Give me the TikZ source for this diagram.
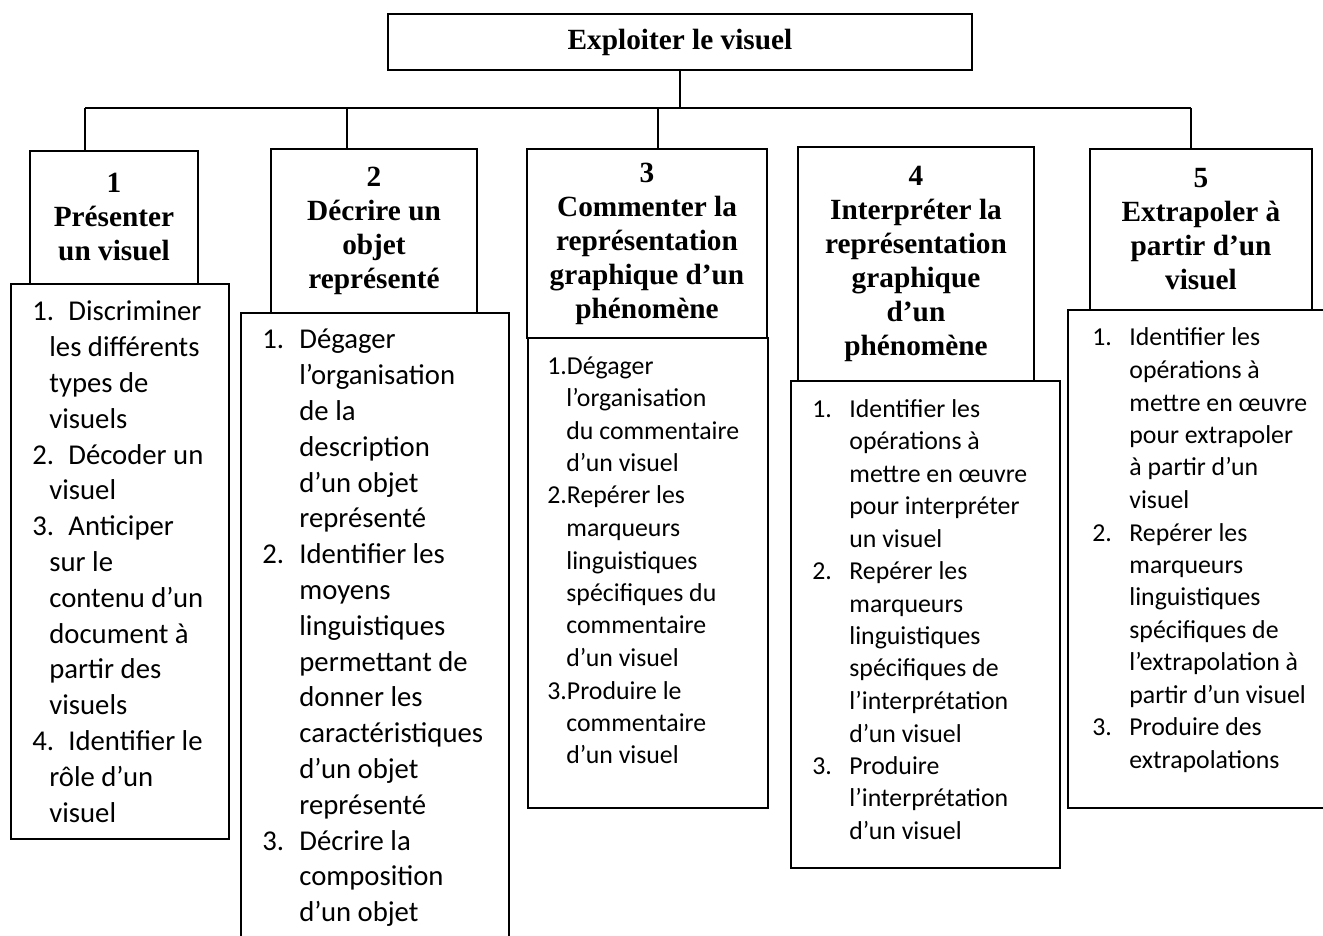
\documentclass[tikz,border=0pt]{standalone}
\usepackage{fontspec}
\setmainfont{Liberation Serif}
\newfontfamily\calibri{Carlito}
\usetikzlibrary{positioning, calc}
\newcommand{\puce}[2][18.5pt]{\makebox[#1][l]{#2}}
\newcommand{\retrait}[1][18.5pt]{\hspace*{#1}}
\newcommand{\liste}[1]{\parbox[t]{150pt}{\raggedright #1}}
\tikzset{
  every picture/.style={x=0.5pt, y=-0.5pt},
  titre/.style={draw, line width=1pt, align=center, inner sep=0pt,
                font=\fontsize{14.65pt}{17pt}\selectfont\bfseries},
  cadre/.style={draw, line width=1pt, anchor=north west, inner sep=0pt},
  liste/.style={anchor=base west, inner sep=0pt,
                font=\calibri\fontsize{14.35pt}{17.9pt}\selectfont},
  listep/.style={liste, font=\calibri\fontsize{12.9pt}{16.25pt}\selectfont},
  lien/.style={line width=0.9pt},
}
\begin{document}
\begin{tikzpicture}
  \useasboundingbox (0,0) rectangle (1323,936);
  \clip (0,0) rectangle (1323,936);
  % en-tete
  \node[titre, minimum width=292pt, minimum height=28pt] (top) at (680,42) {Exploiter le visuel};
  % rubriques
  \node[titre, anchor=north, minimum width=84pt, minimum height=66.5pt] (r1) at (114,150) {1\\Présenter\\un visuel};
  \node[titre, anchor=north, minimum width=103pt, minimum height=82pt] (r2) at (374,148) {2\\Décrire un\\objet\\représenté};
  \node[titre, anchor=north, minimum width=120pt, minimum height=94.5pt] (r3) at (647,148) {3\\Commenter la\\représentation\\graphique d’un\\phénomène};
  \node[titre, anchor=north, minimum width=118pt, minimum height=117pt] (r4) at (916,146) {4\\Interpréter la\\représentation\\graphique\\d’un\\phénomène};
  \node[titre, anchor=north, minimum width=111pt, minimum height=80.5pt] (r5) at (1201,148) {5\\Extrapoler à\\partir d’un\\visuel};
  % cadres des listes
  \node[cadre, minimum width=109pt, minimum height=277.5pt] (c1) at (10,283) {};
  \node[cadre, minimum width=134pt, minimum height=330pt] (c2) at (240,312) {};
  \node[cadre, minimum width=120pt, minimum height=235pt] (c3) at (527,337) {};
  \node[cadre, minimum width=134.5pt, minimum height=243.5pt] (c4) at (790,380) {};
  \node[cadre, minimum width=135pt, minimum height=249pt] (c5) at (1067,309) {};
  % textes des listes
  \node[liste] (t1) at ($(c1.north west)+(22,38)$) {\liste{%
    \puce[18pt]{1.}Discriminer\\
    \retrait[8.5pt]les différents\\
    \retrait[8.5pt]types de\\
    \retrait[8.5pt]visuels\\
    \puce[18pt]{2.}Décoder un\\
    \retrait[8.5pt]visuel\\
    \puce[18pt]{3.}Anticiper\\
    \retrait[8.5pt]sur le\\
    \retrait[8.5pt]contenu d’un\\
    \retrait[8.5pt]document à\\
    \retrait[8.5pt]partir des\\
    \retrait[8.5pt]visuels\\
    \puce[18pt]{4.}Identifier le\\
    \retrait[8.5pt]rôle d’un\\
    \retrait[8.5pt]visuel}};
  \node[liste] (t2) at ($(c2.north west)+(22,37)$) {\liste{%
    \puce{1.}Dégager\\
    \retrait l’organisation\\
    \retrait de la\\
    \retrait description\\
    \retrait d’un objet\\
    \retrait représenté\\
    \puce{2.}Identifier les\\
    \retrait moyens\\
    \retrait linguistiques\\
    \retrait permettant de\\
    \retrait donner les\\
    \retrait caractéristiques\\
    \retrait d’un objet\\
    \retrait représenté\\
    \puce{3.}Décrire la\\
    \retrait composition\\
    \retrait d’un objet}};
  \node[listep] (t3) at ($(c3.north west)+(20,37)$) {\liste{%
    1.Dégager\\
    \retrait[9.5pt]l’organisation\\
    \retrait[9.5pt]du commentaire\\
    \retrait[9.5pt]d’un visuel\\
    2.Repérer les\\
    \retrait[9.5pt]marqueurs\\
    \retrait[9.5pt]linguistiques\\
    \retrait[9.5pt]spécifiques du\\
    \retrait[9.5pt]commentaire\\
    \retrait[9.5pt]d’un visuel\\
    3.Produire le\\
    \retrait[9.5pt]commentaire\\
    \retrait[9.5pt]d’un visuel}};
  \node[listep] (t4) at ($(c4.north west)+(22,37)$) {\liste{%
    \puce{1.}Identifier les\\
    \retrait opérations à\\
    \retrait mettre en œuvre\\
    \retrait pour interpréter\\
    \retrait un visuel\\
    \puce{2.}Repérer les\\
    \retrait marqueurs\\
    \retrait linguistiques\\
    \retrait spécifiques de\\
    \retrait l’interprétation\\
    \retrait d’un visuel\\
    \puce{3.}Produire\\
    \retrait l’interprétation\\
    \retrait d’un visuel}};
  \node[listep] (t5) at ($(c5.north west)+(25,37)$) {\liste{%
    \puce{1.}Identifier les\\
    \retrait opérations à\\
    \retrait mettre en œuvre\\
    \retrait pour extrapoler\\
    \retrait à partir d’un\\
    \retrait visuel\\
    \puce{2.}Repérer les\\
    \retrait marqueurs\\
    \retrait linguistiques\\
    \retrait spécifiques de\\
    \retrait l’extrapolation à\\
    \retrait partir d’un visuel\\
    \puce{3.}Produire des\\
    \retrait extrapolations}};
  % liaisons
  \coordinate (b1) at (85,108);
  \coordinate (b2) at (347,108);
  \coordinate (b3) at (658,108);
  \coordinate (b5) at (1191,108);
  \draw[lien] (b1) -- (b5);
  \draw[lien] (top.south) -- (top.south |- b1);
  \foreach \b/\r in {b1/r1, b2/r2, b3/r3, b5/r5} \draw[lien] (\b) -- (\b |- \r.north);
\end{tikzpicture}
\end{document}
